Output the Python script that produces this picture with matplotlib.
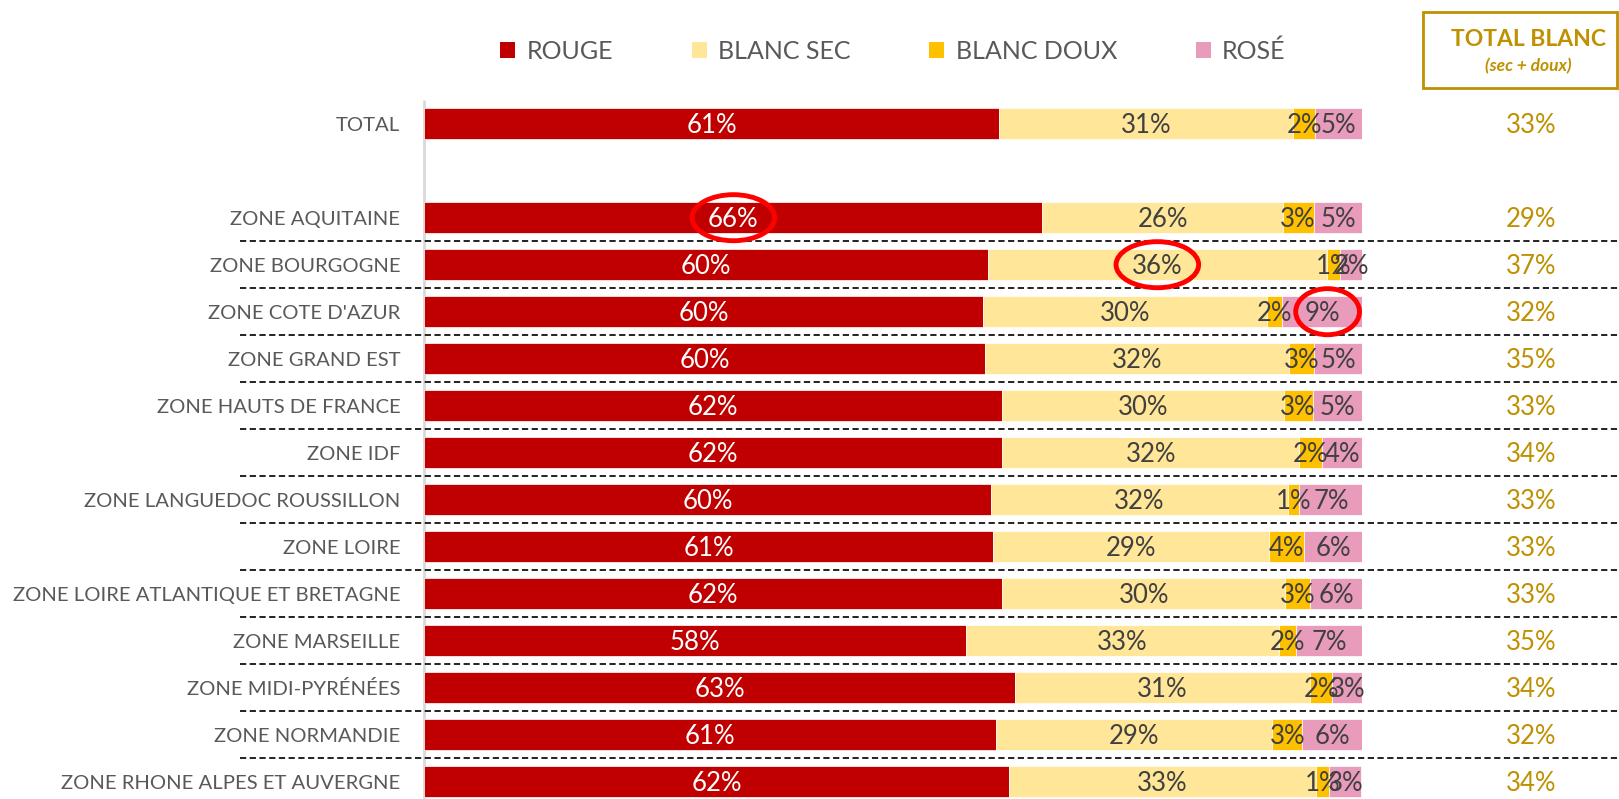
import matplotlib
matplotlib.use("Agg")
import matplotlib.pyplot as plt
from matplotlib.patches import Ellipse, Patch, Rectangle
from matplotlib.transforms import blended_transform_factory

plt.rcParams['font.family'] = ['Lato', 'DejaVu Sans']

# ---------------- data ----------------
categories = ["TOTAL", "ZONE AQUITAINE", "ZONE BOURGOGNE", "ZONE COTE D'AZUR",
              "ZONE GRAND EST", "ZONE HAUTS DE FRANCE", "ZONE IDF",
              "ZONE LANGUEDOC ROUSSILLON", "ZONE LOIRE",
              "ZONE LOIRE ATLANTIQUE ET BRETAGNE", "ZONE MARSEILLE",
              "ZONE MIDI-PYRÉNÉES", "ZONE NORMANDIE",
              "ZONE RHONE ALPES ET AUVERGNE"]
rouge      = [61.3, 65.9, 60.1, 59.6, 59.8, 61.6, 61.6, 60.4, 60.6, 61.6, 57.8, 63.0, 61.0, 62.3]
blanc_sec  = [31.3, 25.6, 36.1, 30.2, 32.4, 30.0, 31.7, 31.7, 29.4, 30.2, 33.3, 31.4, 29.4, 32.8]
blanc_doux = [2.4, 3.3, 1.4, 1.6, 2.6, 3.1, 2.4, 1.2, 3.8, 2.6, 1.8, 2.4, 3.2, 1.4]
rose       = [5.0, 5.2, 2.4, 8.6, 5.2, 5.3, 4.3, 6.7, 6.2, 5.6, 7.1, 3.2, 6.4, 3.4]
total_blanc = [33, 29, 37, 32, 35, 33, 34, 33, 33, 33, 35, 34, 32, 34]
series_names = ["ROUGE", "BLANC SEC", "BLANC DOUX", "ROSÉ"]
highlights = [(1, 0), (2, 1), (3, 3)]   # (category index, series index) circled in red

# ---------------- style ----------------
colors = ["#C00000", "#FFE699", "#FFC000", "#E99BBB"]
label_colors = ["white", "#404040", "#404040", "#404040"]
gold = "#BF9000"
grey_text = "#595959"

W, H = 1619, 799
fig = plt.figure(figsize=(W / 100, H / 100), dpi=100)

x0, x1 = 424.3, 1362.3
row0, step = 123.7, 47.0
ax = fig.add_axes([x0 / W, 0, (x1 - x0) / W, 1])
ax.set_xlim(0, 100)
ax.set_ylim((H - row0) / step, -row0 / step)
ax.axis('off')

# row positions: TOTAL at 0, then a gap row, then the zones
ypos = [0] + [i + 1 for i in range(1, len(categories))]

series = [rouge, blanc_sec, blanc_doux, rose]
left = [0.0] * len(categories)
for s, (vals, col) in enumerate(zip(series, colors)):
    ax.barh(ypos, vals, left=left, height=0.66, color=col,
            edgecolor='white', linewidth=0.5, zorder=2)
    for i, (v, l) in enumerate(zip(vals, left)):
        ax.text(l + v / 2, ypos[i] + 0.04, f"{round(v)}%", ha='center', va='center',
                fontsize=18.5, color=label_colors[s], zorder=4)
    left = [l + v for l, v in zip(left, vals)]

# category labels
for i, c in enumerate(categories):
    ax.text(-24 / 9.38, ypos[i] + 0.03, c, ha='right', va='center', fontsize=14.6,
            color=grey_text)

# vertical axis line
ax.vlines(0, -0.5, ypos[-1] + 0.6, color="#D9D9D9", lw=2, zorder=1, clip_on=False)

# dashed separators
bt = blended_transform_factory(fig.transFigure, ax.transData)
for y in ypos[1:-1]:
    ax.plot([240 / W, 1.0], [y + 0.5, y + 0.5], transform=bt, color="#222222",
            lw=1.4, ls=(0, (3.2, 1.8)), clip_on=False, zorder=1)

# highlight ellipses
for ci, si in highlights:
    start = sum(series[k][ci] for k in range(si))
    cx = start + series[si][ci] / 2
    if si == 3:
        cx += 0.6
    ax.add_patch(Ellipse((cx, ypos[ci]), width=8.8 if si != 3 else 6.8,
                         height=0.98, fill=False, edgecolor="#FF0000", lw=3.5,
                         zorder=5, clip_on=False))

# TOTAL BLANC column
for i, v in enumerate(total_blanc):
    ax.text(1531 / W, ypos[i] + 0.04, f"{v}%", transform=bt, ha='center', va='center',
            fontsize=18.5, color=gold)

fig.add_artist(Rectangle((1423 / W, 1 - 88 / H), (1617 - 1423) / W, (88 - 12) / H,
                         transform=fig.transFigure, fill=False, edgecolor=gold, lw=2))
fig.text(1528 / W, 1 - 40 / H, "TOTAL BLANC", ha='center', va='center',
         fontsize=16.5, fontweight='bold', color=gold)
fig.text(1528 / W, 1 - 66 / H, "(sec + doux)", ha='center', va='center',
         fontsize=12.5, fontweight='bold', style='italic', color=gold)

# legend
handles = [Patch(facecolor=c, edgecolor='none', label=n) for c, n in zip(colors, series_names)]
fig.legend(handles=handles, loc='center', bbox_to_anchor=(893 / W, 1 - 51 / H),
           ncol=4, frameon=False, fontsize=18, handlelength=0.6, handleheight=0.6,
           handletextpad=0.45, columnspacing=3.15, labelcolor=grey_text)

fig.savefig("out.png", dpi=100, facecolor='white')
